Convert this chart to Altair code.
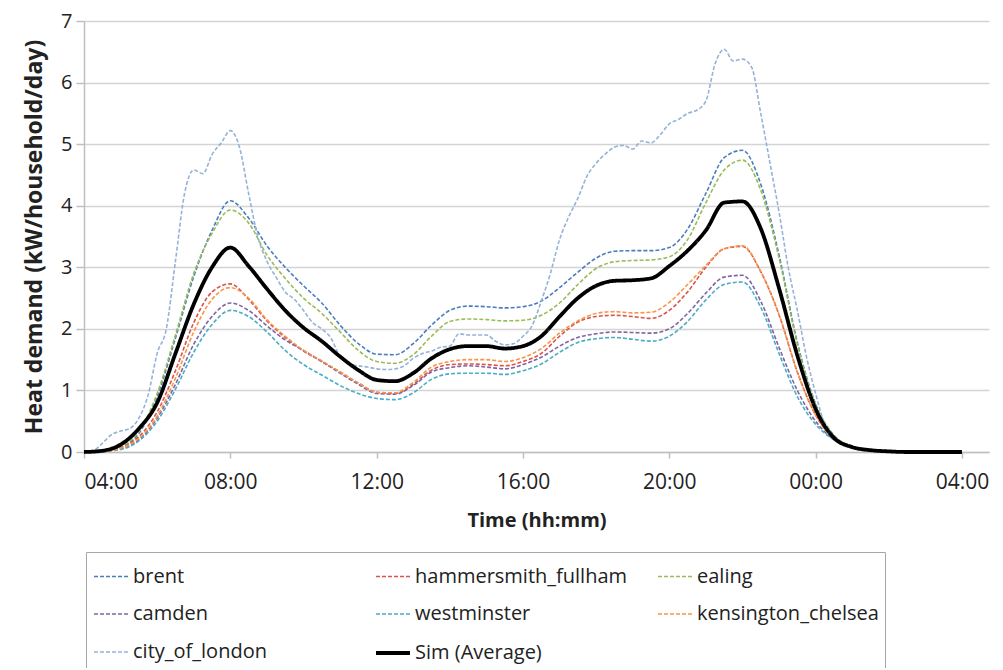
import altair as alt
import pandas as pd

# half-hour time grid (hours since midnight; 28 = 04:00 next day)
times = [4.0, 4.5, 5.0, 5.5, 6.0, 6.5, 7.0, 7.5, 8.0, 8.5,
         9.0, 9.5, 10.0, 10.5, 11.0, 11.5, 12.0, 12.5, 13.0, 13.5,
         14.0, 14.5, 15.0, 15.5, 16.0, 16.5, 17.0, 17.5, 18.0, 18.5,
         19.0, 19.5, 20.0, 20.5, 21.0, 21.5, 22.0, 22.5, 23.0, 23.5,
         24.0, 24.5, 25.0, 25.5, 26.0, 26.5, 27.0, 27.5, 28.0]

brent = [0, 0.01, 0.08, 0.3, 0.9, 1.85, 2.85, 3.6, 4.08, 3.8,
         3.35, 3.0, 2.7, 2.42, 2.06, 1.76, 1.59, 1.58, 1.76, 2.06,
         2.3, 2.37, 2.36, 2.34, 2.36, 2.45, 2.67, 2.92, 3.15, 3.26,
         3.27, 3.27, 3.32, 3.62, 4.2, 4.78, 4.9, 4.35, 3.2, 1.78,
         0.78, 0.27, 0.09, 0.02, 0, 0, 0, 0, 0]

hammersmith_fullham = [0, 0.01, 0.07, 0.25, 0.65, 1.32, 2.1, 2.6, 2.73, 2.48,
                       2.13, 1.86, 1.64, 1.47, 1.3, 1.12, 0.97, 0.95, 1.1, 1.33,
                       1.42, 1.43, 1.42, 1.4, 1.47, 1.6, 1.88, 2.11, 2.2, 2.22,
                       2.2, 2.17, 2.3, 2.6, 3.0, 3.3, 3.34, 2.93, 2.23, 1.3,
                       0.6, 0.22, 0.07, 0.02, 0, 0, 0, 0, 0]

ealing = [0, 0.01, 0.09, 0.33, 0.95, 1.9, 2.9, 3.55, 3.93, 3.72,
          3.2, 2.82, 2.5, 2.25, 1.95, 1.65, 1.47, 1.44, 1.58, 1.88,
          2.12, 2.16, 2.15, 2.13, 2.14, 2.22, 2.42, 2.72, 2.98, 3.09,
          3.11, 3.12, 3.17, 3.45, 4.05, 4.58, 4.74, 4.25, 3.15, 1.75,
          0.77, 0.27, 0.09, 0.02, 0, 0, 0, 0, 0]

camden = [0, 0.01, 0.05, 0.2, 0.55, 1.1, 1.75, 2.2, 2.42, 2.3,
          2.05, 1.82, 1.65, 1.47, 1.28, 1.1, 0.95, 0.94, 1.08, 1.3,
          1.37, 1.4, 1.38, 1.35, 1.42, 1.54, 1.72, 1.86, 1.92, 1.95,
          1.94, 1.93, 2.0, 2.25, 2.58, 2.84, 2.87, 2.45, 1.7, 1.0,
          0.5, 0.2, 0.07, 0.02, 0, 0, 0, 0, 0]

westminster = [0, 0.01, 0.04, 0.18, 0.5, 1.02, 1.62, 2.07, 2.3, 2.2,
               1.95, 1.65, 1.42, 1.25, 1.08, 0.95, 0.87, 0.85, 0.96, 1.18,
               1.27, 1.28, 1.28, 1.26, 1.32, 1.43, 1.62, 1.78, 1.84, 1.86,
               1.83, 1.8, 1.88, 2.12, 2.47, 2.72, 2.76, 2.35, 1.6, 0.9,
               0.45, 0.2, 0.07, 0.02, 0, 0, 0, 0, 0]

kensington_chelsea = [0, 0.01, 0.06, 0.22, 0.58, 1.2, 1.95, 2.48, 2.67, 2.5,
                      2.15, 1.88, 1.65, 1.48, 1.3, 1.12, 0.97, 0.96, 1.13, 1.38,
                      1.47, 1.5, 1.5, 1.47, 1.53, 1.68, 1.93, 2.13, 2.25, 2.28,
                      2.26, 2.27, 2.43, 2.72, 3.03, 3.3, 3.35, 2.93, 2.23, 1.3,
                      0.6, 0.22, 0.07, 0.02, 0, 0, 0, 0, 0]

sim_average = [0, 0.02, 0.12, 0.38, 0.8, 1.6, 2.4, 3.0, 3.32, 3.02,
               2.65, 2.3, 2.02, 1.8, 1.55, 1.33, 1.17, 1.15, 1.28, 1.52,
               1.67, 1.72, 1.72, 1.68, 1.72, 1.88, 2.2, 2.5, 2.7, 2.78,
               2.79, 2.82, 3.02, 3.27, 3.6, 4.05, 4.07, 3.63, 2.66, 1.57,
               0.7, 0.23, 0.08, 0.03, 0.01, 0, 0, 0, 0]

# city_of_london is noisier, read at quarter-hour resolution
city_times = [4.0, 4.25, 4.5, 4.75, 5.0, 5.25, 5.5, 5.75, 6.0, 6.25,
              6.5, 6.75, 7.0, 7.25, 7.5, 7.75, 8.0, 8.25, 8.5, 8.75,
              9.0, 9.25, 9.5, 9.75, 10.0, 10.25, 10.5, 10.75, 11.0, 11.25,
              11.5, 11.75, 12.0, 12.25, 12.5, 12.75, 13.0, 13.25, 13.5, 13.75,
              14.0, 14.25, 14.5, 14.75, 15.0, 15.25, 15.5, 15.75, 16.0, 16.25,
              16.5, 16.75, 17.0, 17.25, 17.5, 17.75, 18.0, 18.25, 18.5, 18.75,
              19.0, 19.25, 19.5, 19.75, 20.0, 20.25, 20.5, 20.75, 21.0, 21.25,
              21.5, 21.75, 22.0, 22.25, 22.5, 22.75, 23.0, 23.25, 23.5, 23.75,
              24.0, 24.25, 24.5, 24.75, 25.0, 25.5, 26.0, 28.0]
city_of_london = [0, 0.02, 0.14, 0.28, 0.34, 0.38, 0.55, 0.92, 1.6, 2.0,
                  3.1, 4.2, 4.58, 4.52, 4.83, 5.02, 5.22, 4.95, 4.2, 3.5,
                  3.1, 2.84, 2.6, 2.48, 2.3, 2.1, 2.0, 1.85, 1.55, 1.43,
                  1.4, 1.38, 1.35, 1.34, 1.35, 1.4, 1.52, 1.6, 1.64, 1.7,
                  1.72, 1.92, 1.9, 1.9, 1.9, 1.8, 1.74, 1.76, 1.88, 2.05,
                  2.45, 2.9, 3.45, 3.82, 4.12, 4.48, 4.69, 4.84, 4.95, 4.98,
                  4.92, 5.05, 5.02, 5.15, 5.33, 5.4, 5.5, 5.55, 5.7, 6.3,
                  6.54, 6.35, 6.38, 6.25, 5.5, 4.7, 3.9, 3.0, 2.3, 1.55,
                  0.95, 0.45, 0.25, 0.12, 0.06, 0.01, 0, 0]

series_names = ["brent", "hammersmith_fullham", "ealing", "camden",
                "westminster", "kensington_chelsea", "city_of_london",
                "Sim (Average)"]
series_colors = ["#4A7EBB", "#D9534F", "#9BBB59", "#8064A2",
                 "#4BACC6", "#F79646", "#95B3D7", "#000000"]
x_ticks = [4, 8, 12, 16, 20, 24, 28]
y_ticks = [0, 1, 2, 3, 4, 5, 6, 7]

rows = []
for name, vals in [("brent", brent), ("hammersmith_fullham", hammersmith_fullham),
                   ("ealing", ealing), ("camden", camden),
                   ("westminster", westminster),
                   ("kensington_chelsea", kensington_chelsea),
                   ("Sim (Average)", sim_average)]:
    for t, v in zip(times, vals):
        rows.append({"hour": t, "value": v, "series": name})
for t, v in zip(city_times, city_of_london):
    rows.append({"hour": t, "value": v, "series": "city_of_london"})
df = pd.DataFrame(rows)

FONT = "Open Sans"
dash_range = [[4, 2]] * 7 + [[1, 0]]
width_range = [1.6] * 7 + [3.8]

x_enc = alt.X("hour:Q",
              scale=alt.Scale(domain=[4, 28.74], nice=False, zero=False),
              axis=alt.Axis(values=x_ticks, grid=False, title="Time (hh:mm)",
                            labelExpr="(datum.value % 24 < 10 ? '0' : '') + (datum.value % 24) + ':00'",
                            labelFontSize=21,
                            tickSize=6, labelPadding=13, titlePadding=18))
y_enc = alt.Y("value:Q",
              scale=alt.Scale(domain=[0, 7], nice=False),
              axis=alt.Axis(values=y_ticks, grid=True,
                            title="Heat demand (kW/household/day)",
                            titleFontSize=23,
                            tickSize=8, labelPadding=4, titlePadding=14))
color_enc = alt.Color("series:N",
                      scale=alt.Scale(domain=series_names, range=series_colors),
                      legend=alt.Legend(title=None, orient="none",
                                        legendX=2, legendY=531,
                                        columns=3, direction="horizontal",
                                        gridAlign="all",
                                        symbolType="stroke", symbolSize=1156,
                                        labelFont=FONT, labelFontSize=20,
                                        labelColor="#222222", labelOffset=3,
                                        labelLimit=400,
                                        strokeColor="#A6A6A6", padding=6,
                                        rowPadding=9, columnPadding=22))
dash_enc = alt.StrokeDash("series:N",
                          scale=alt.Scale(type="ordinal", domain=series_names,
                                          range=dash_range))
width_enc = alt.StrokeWidth("series:N",
                            scale=alt.Scale(type="ordinal", domain=series_names,
                                            range=width_range))

base = alt.Chart(df)
districts = base.mark_line(interpolate="monotone").encode(
    x=x_enc, y=y_enc, color=color_enc, strokeDash=dash_enc,
    strokeWidth=width_enc
).transform_filter(alt.datum.series != "Sim (Average)")
sim = base.mark_line(interpolate="monotone").encode(
    x=x_enc, y=y_enc, color=color_enc, strokeDash=dash_enc,
    strokeWidth=width_enc
).transform_filter(alt.datum.series == "Sim (Average)")

chart = alt.layer(districts, sim).properties(
    width=905, height=431,
    autosize=alt.AutoSizeParams(type="none"),
    padding={"left": 76, "top": 13, "right": 6, "bottom": 216},
    background="white",
).configure_view(stroke=None).configure_axis(
    labelFont=FONT, labelFontSize=20, labelColor="#222222",
    titleFont=FONT, titleFontSize=20, titleFontWeight="bold",
    titleColor="#222222",
    domainColor="#BFBFBF", domainWidth=1.5,
    tickColor="#BFBFBF", tickWidth=1.5,
    gridColor="#D4D4D4", gridWidth=1.5,
)

chart.save("out.html", embed_options={"renderer": "svg", "actions": False})
